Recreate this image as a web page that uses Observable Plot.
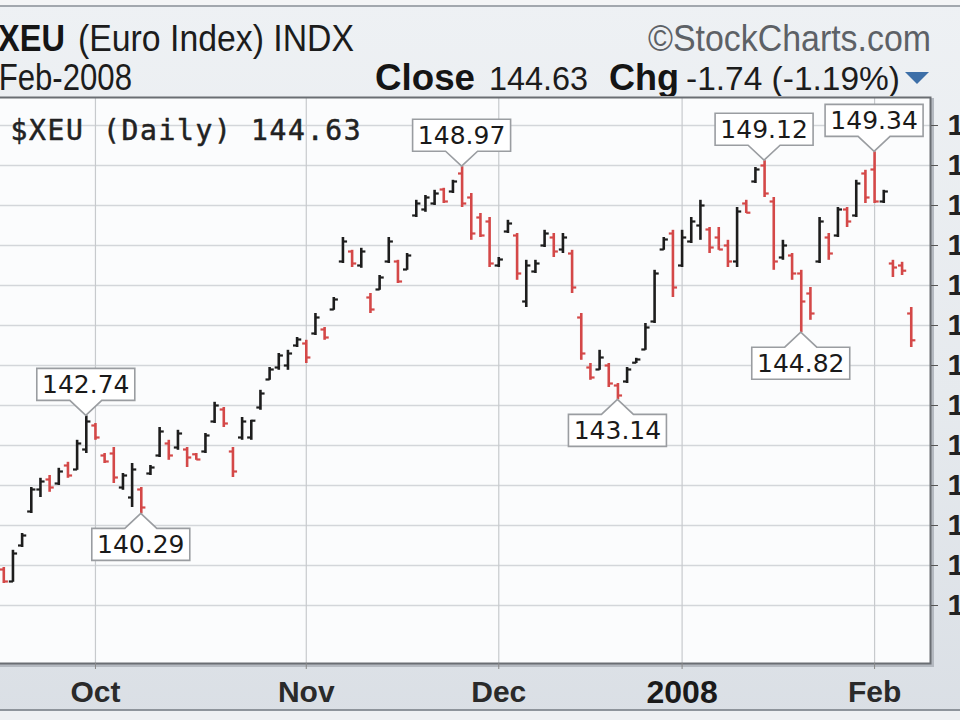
<!DOCTYPE html>
<html><head><meta charset="utf-8">
<script src="https://cdn.jsdelivr.net/npm/d3@7"></script>
<script src="https://cdn.jsdelivr.net/npm/@observablehq/plot@0.6"></script>
<style>
html,body{margin:0;padding:0;width:960px;height:720px;overflow:hidden;}
body{position:relative;background:linear-gradient(#eef1f4 0%,#e6eaee 55%,#dadfe5 100%);font-family:"Liberation Sans",Arial,sans-serif;}
#topline{position:absolute;left:0;top:0;width:960px;height:5px;background:#f4f5f6;border-bottom:2px solid #a3a8ae;}
#botline{position:absolute;left:0;top:709px;width:960px;height:11px;background:#eef0f2;border-top:2px solid #8e949b;}
#header{position:absolute;left:0;top:0;}
#chart{position:absolute;left:-40px;top:90px;width:1060px;height:620px;}
</style></head><body>
<div id="topline"></div>
<svg id="header" width="960" height="96" font-family="'Liberation Sans', Arial, sans-serif">
  <text x="-20" y="51" font-size="36" font-weight="bold" fill="#151515" textLength="85" lengthAdjust="spacingAndGlyphs">$XEU</text>
  <text x="78" y="51" font-size="36" fill="#1c1c1c" textLength="276" lengthAdjust="spacingAndGlyphs">(Euro Index) INDX</text>
  <text x="-29" y="90" font-size="36" fill="#1c1c1c" textLength="161" lengthAdjust="spacingAndGlyphs">7-Feb-2008</text>
  <text x="648" y="51" font-size="36" fill="#5d6166" textLength="283" lengthAdjust="spacingAndGlyphs">©StockCharts.com</text>
  <text x="375" y="90" font-size="36" font-weight="bold" fill="#151515" textLength="100" lengthAdjust="spacingAndGlyphs">Close</text>
  <text x="489" y="90" font-size="34" fill="#1c1c1c" textLength="99" lengthAdjust="spacingAndGlyphs">144.63</text>
  <text x="609" y="90" font-size="36" font-weight="bold" fill="#151515" textLength="70" lengthAdjust="spacingAndGlyphs">Chg</text>
  <text x="686" y="90" font-size="34" fill="#1c1c1c" textLength="214" lengthAdjust="spacingAndGlyphs">-1.74 (-1.19%)</text>
  <polygon points="905,72 929,72 917,84" fill="#3d6fa8"/>
</svg>
<div id="chart"></div>
<div id="botline"></div>
<script>
// Trading days shown (daily bars)
const dates = [
"2007-09-14","2007-09-17","2007-09-18","2007-09-19","2007-09-20","2007-09-21","2007-09-24","2007-09-25","2007-09-26","2007-09-27","2007-09-28",
"2007-10-01","2007-10-02","2007-10-03","2007-10-04","2007-10-05","2007-10-08","2007-10-09","2007-10-10","2007-10-11","2007-10-12",
"2007-10-15","2007-10-16","2007-10-17","2007-10-18","2007-10-19","2007-10-22","2007-10-23","2007-10-24","2007-10-25","2007-10-26",
"2007-10-29","2007-10-30","2007-10-31",
"2007-11-01","2007-11-02","2007-11-05","2007-11-06","2007-11-07","2007-11-08","2007-11-09","2007-11-12","2007-11-13","2007-11-14",
"2007-11-15","2007-11-16","2007-11-19","2007-11-20","2007-11-21","2007-11-23","2007-11-26","2007-11-27","2007-11-28","2007-11-29","2007-11-30",
"2007-12-03","2007-12-04","2007-12-05","2007-12-06","2007-12-07","2007-12-10","2007-12-11","2007-12-12","2007-12-13","2007-12-14",
"2007-12-17","2007-12-18","2007-12-19","2007-12-20","2007-12-21","2007-12-24","2007-12-26","2007-12-27","2007-12-28","2007-12-31",
"2008-01-02","2008-01-03","2008-01-04","2008-01-07","2008-01-08","2008-01-09","2008-01-10","2008-01-11","2008-01-14","2008-01-15",
"2008-01-16","2008-01-17","2008-01-18","2008-01-22","2008-01-23","2008-01-24","2008-01-25","2008-01-28","2008-01-29","2008-01-30","2008-01-31",
"2008-02-01","2008-02-04","2008-02-05","2008-02-06","2008-02-07"];

const open = [138.8,138.9,138.6,139.5,140.35,140.9,141.15,141.05,141.5,141.4,141.9,
142.5,141.75,141.8,140.95,140.7,140.9,141.3,141.75,142.05,141.95,
141.9,141.78,141.85,142.6,142.9,141.85,142.2,142.2,142.95,143.65,
143.95,144.0,144.5,
144.55,144.8,144.9,145.4,146.6,146.85,146.5,145.7,145.9,146.6,
146.6,146.4,147.75,147.9,148.05,148.4,148.35,148.8,148.2,147.7,147.6,
146.5,147.35,147.25,145.6,146.35,147.0,147.2,146.9,146.8,145.2,
143.95,143.9,144.0,143.5,143.6,144.07,144.4,145.1,146.9,147.3,
146.5,147.1,147.5,147.4,147.2,147.0,146.6,148.05,148.6,149.0,
148.1,146.7,146.75,146.3,145.8,146.6,147.2,147.25,147.9,147.75,148.8,
148.9,148.1,146.55,146.5,145.3];

const high = [138.88,138.95,139.38,139.8,140.95,141.18,141.25,141.43,141.58,142.13,142.74,
142.55,141.8,141.95,141.3,141.55,140.95,141.5,142.45,142.13,142.38,
141.95,141.8,142.3,143.08,142.95,141.95,142.7,142.63,143.38,143.95,
144.3,144.38,144.7,
144.63,145.3,144.95,145.7,147.2,146.88,146.93,145.8,146.25,147.2,
146.63,146.8,148.13,148.25,148.38,148.43,148.63,148.97,148.3,147.8,147.7,
146.7,147.63,147.3,146.63,146.63,147.38,147.3,147.3,146.88,145.3,
144.05,144.38,144.05,143.55,143.95,144.18,145.05,146.38,147.2,147.38,
147.38,147.7,148.13,147.45,147.45,147.13,147.95,148.13,148.95,149.12,
148.2,147.13,146.8,146.38,145.95,147.7,147.3,147.95,147.95,148.63,148.88,
149.34,148.38,146.63,146.58,145.45];

const low = [138.38,138.55,138.58,139.45,140.3,140.7,140.83,141.0,141.18,141.38,141.8,
142.13,141.55,141.05,140.88,140.45,140.29,141.25,141.7,141.63,141.88,
141.45,141.63,141.8,142.55,142.45,141.2,142.13,142.13,142.88,143.63,
143.88,143.88,144.45,
144.05,144.75,144.63,145.38,146.55,146.45,146.43,145.3,145.88,146.55,
146.05,146.38,147.7,147.83,148.0,148.05,148.3,147.95,147.13,147.2,146.45,
146.45,147.3,146.13,145.45,146.3,146.95,146.7,146.8,145.8,144.13,
143.63,143.88,143.45,143.14,143.55,144.05,144.38,145.05,146.88,145.7,
146.45,147.05,147.13,146.8,146.88,146.45,146.45,147.8,148.55,148.2,
146.38,146.63,146.13,144.82,145.13,146.55,146.63,147.2,147.45,147.7,148.05,
148.05,148.05,146.2,146.25,144.45];

const close = [138.7,138.6,139.3,139.75,140.9,141.1,140.95,141.35,141.25,142.05,142.6,
142.2,141.6,141.2,141.25,141.4,140.45,141.45,142.35,141.75,142.3,
141.7,141.65,142.25,143.0,142.55,141.35,142.6,142.62,143.3,143.9,
144.25,144.3,144.65,
144.2,145.2,144.7,145.65,147.1,146.55,146.85,145.4,146.2,147.1,
146.1,146.75,148.05,148.2,148.3,148.1,148.6,148.05,147.3,147.25,146.55,
146.65,147.55,146.3,146.5,146.55,147.3,146.85,147.2,145.95,144.3,
143.7,144.2,143.55,143.25,143.9,144.15,144.95,146.3,147.15,145.95,
147.2,147.6,148.0,146.95,146.9,146.6,147.85,147.82,148.9,148.3,
146.6,147.0,146.3,145.6,145.3,147.6,146.8,147.9,147.6,148.55,148.2,
148.1,148.35,146.45,146.37,144.63];

// Axis ticks
const yTicks = [138,139,140,141,142,143,144,145,146,147,148,149,150];
const monthTickDates = ["2007-10-01","2007-11-01","2007-12-03","2008-01-02","2008-02-01"];
const monthTickLabels = ["Oct","Nov","Dec","2008","Feb"];

// High / low annotations
const calloutDates = ["2007-09-28","2007-10-08","2007-11-27","2007-12-20","2008-01-15","2008-01-22","2008-02-01"];
const calloutKind  = ["high","low","high","low","high","low","high"];

const chartLabel = "$XEU (Daily) 144.63";

// Build table
const rows = dates.map((d, j) => ({
  j, date: d, open: open[j], high: high[j], low: low[j], close: close[j],
  up: j === 0 ? close[j] >= open[j] : close[j] >= close[j - 1]
}));
const upRows = rows.filter(r => r.up);
const downRows = rows.filter(r => !r.up);
const BLACK = "#1d1d1d", RED = "#d44848";

const tickIdx = monthTickDates.map(d => dates.indexOf(d));
const labelOf = new Map(tickIdx.map((t, k) => [t, monthTickLabels[k]]));
const yearIdx = tickIdx.filter(t => /^\d+$/.test(labelOf.get(t)));
const monIdx = tickIdx.filter(t => !/^\d+$/.test(labelOf.get(t)));

function ohlc(data, color) {
  return [
    Plot.ruleX(data, {x: "j", y1: "low", y2: "high", stroke: color, strokeWidth: 2.6}),
    Plot.link(data, {x1: d => d.j - 0.45, x2: "j", y1: "open", y2: "open", stroke: color, strokeWidth: 2.2}),
    Plot.link(data, {x1: "j", x2: d => d.j + 0.45, y1: "close", y2: "close", stroke: color, strokeWidth: 2.2})
  ];
}

function callouts(index, scales) {
  const g = d3.create("svg:g");
  calloutDates.forEach((d, k) => {
    const j = dates.indexOf(d);
    const isHigh = calloutKind[k] === "high";
    const v = isHigh ? high[j] : low[j];
    const px = scales.x(j), py = scales.y(v);
    const s = isHigh ? -1 : 1;
    const near = py + s * 15, far = py + s * 47;
    g.append("path")
      .attr("d", `M${px-49},${far}H${px+49}V${near}H${px+16}L${px},${py}L${px-16},${near}H${px-49}Z`)
      .attr("fill", "#ffffff").attr("stroke", "#9a9da1").attr("stroke-width", 1.6);
    g.append("text")
      .attr("x", px).attr("y", (near + far) / 2).attr("dy", "0.36em")
      .attr("text-anchor", "middle").attr("font-family", "DejaVu Sans, sans-serif")
      .attr("font-size", 25).attr("fill", "#1a1a1a")
      .text(v.toFixed(2));
  });
  return g.node();
}

const chart = Plot.plot({
  width: 1060, height: 620,
  marginLeft: 30, marginRight: 90, marginTop: 7, marginBottom: 47,
  x: {type: "linear", domain: [-0.45, 102.1], label: null},
  y: {domain: [136.55, 150.7], label: null},
  style: {background: "transparent", maxWidth: "none", overflow: "visible",
          fontFamily: "'Liberation Sans', Arial, sans-serif"},
  marks: [
    Plot.frame({stroke: "#b4b9c0", strokeWidth: 3, dx: 2, dy: 2}),
    Plot.frame({fill: "#fbfcfd", stroke: "none"}),
    Plot.ruleY(yTicks, {stroke: "#d3d6da", strokeWidth: 1.3}),
    Plot.ruleX(tickIdx, {stroke: "#c7cacd", strokeWidth: 1.2}),
    Plot.text([chartLabel], {frameAnchor: "top-left", text: d => d, dx: 20, dy: 23,
      textAnchor: "start", fontSize: 28, fontFamily: "DejaVu Sans Mono, monospace",
      fill: "#222", stroke: "#222", strokeWidth: 0.5}),
    ...ohlc(upRows, BLACK),
    ...ohlc(downRows, RED),
    callouts,
    Plot.frame({stroke: "#6a6e73", strokeWidth: 2}),
    Plot.axisY(yTicks, {anchor: "right", label: null, tickSize: 7, tickPadding: 10, fontSize: 30,
      fontWeight: "bold", fill: "#222", stroke: "#555", tickFormat: d => String(d)}),
    Plot.axisX(monIdx, {anchor: "bottom", label: null, tickSize: 6, tickPadding: 11, fontSize: 30,
      fontWeight: "bold", fill: "#2a2a2a", stroke: "#888", tickFormat: t => labelOf.get(t)}),
    Plot.axisX(yearIdx, {anchor: "bottom", label: null, tickSize: 6, tickPadding: 11, fontSize: 32,
      fontWeight: 900, fill: "#1a1a1a", stroke: "#888", tickFormat: t => labelOf.get(t)})
  ]
});

d3.select(chart).selectAll("text")
  .filter(function () { return this.textContent === chartLabel; })
  .attr("textLength", 350).attr("lengthAdjust", "spacing");

document.getElementById("chart").appendChild(chart);
</script>
</body></html>
